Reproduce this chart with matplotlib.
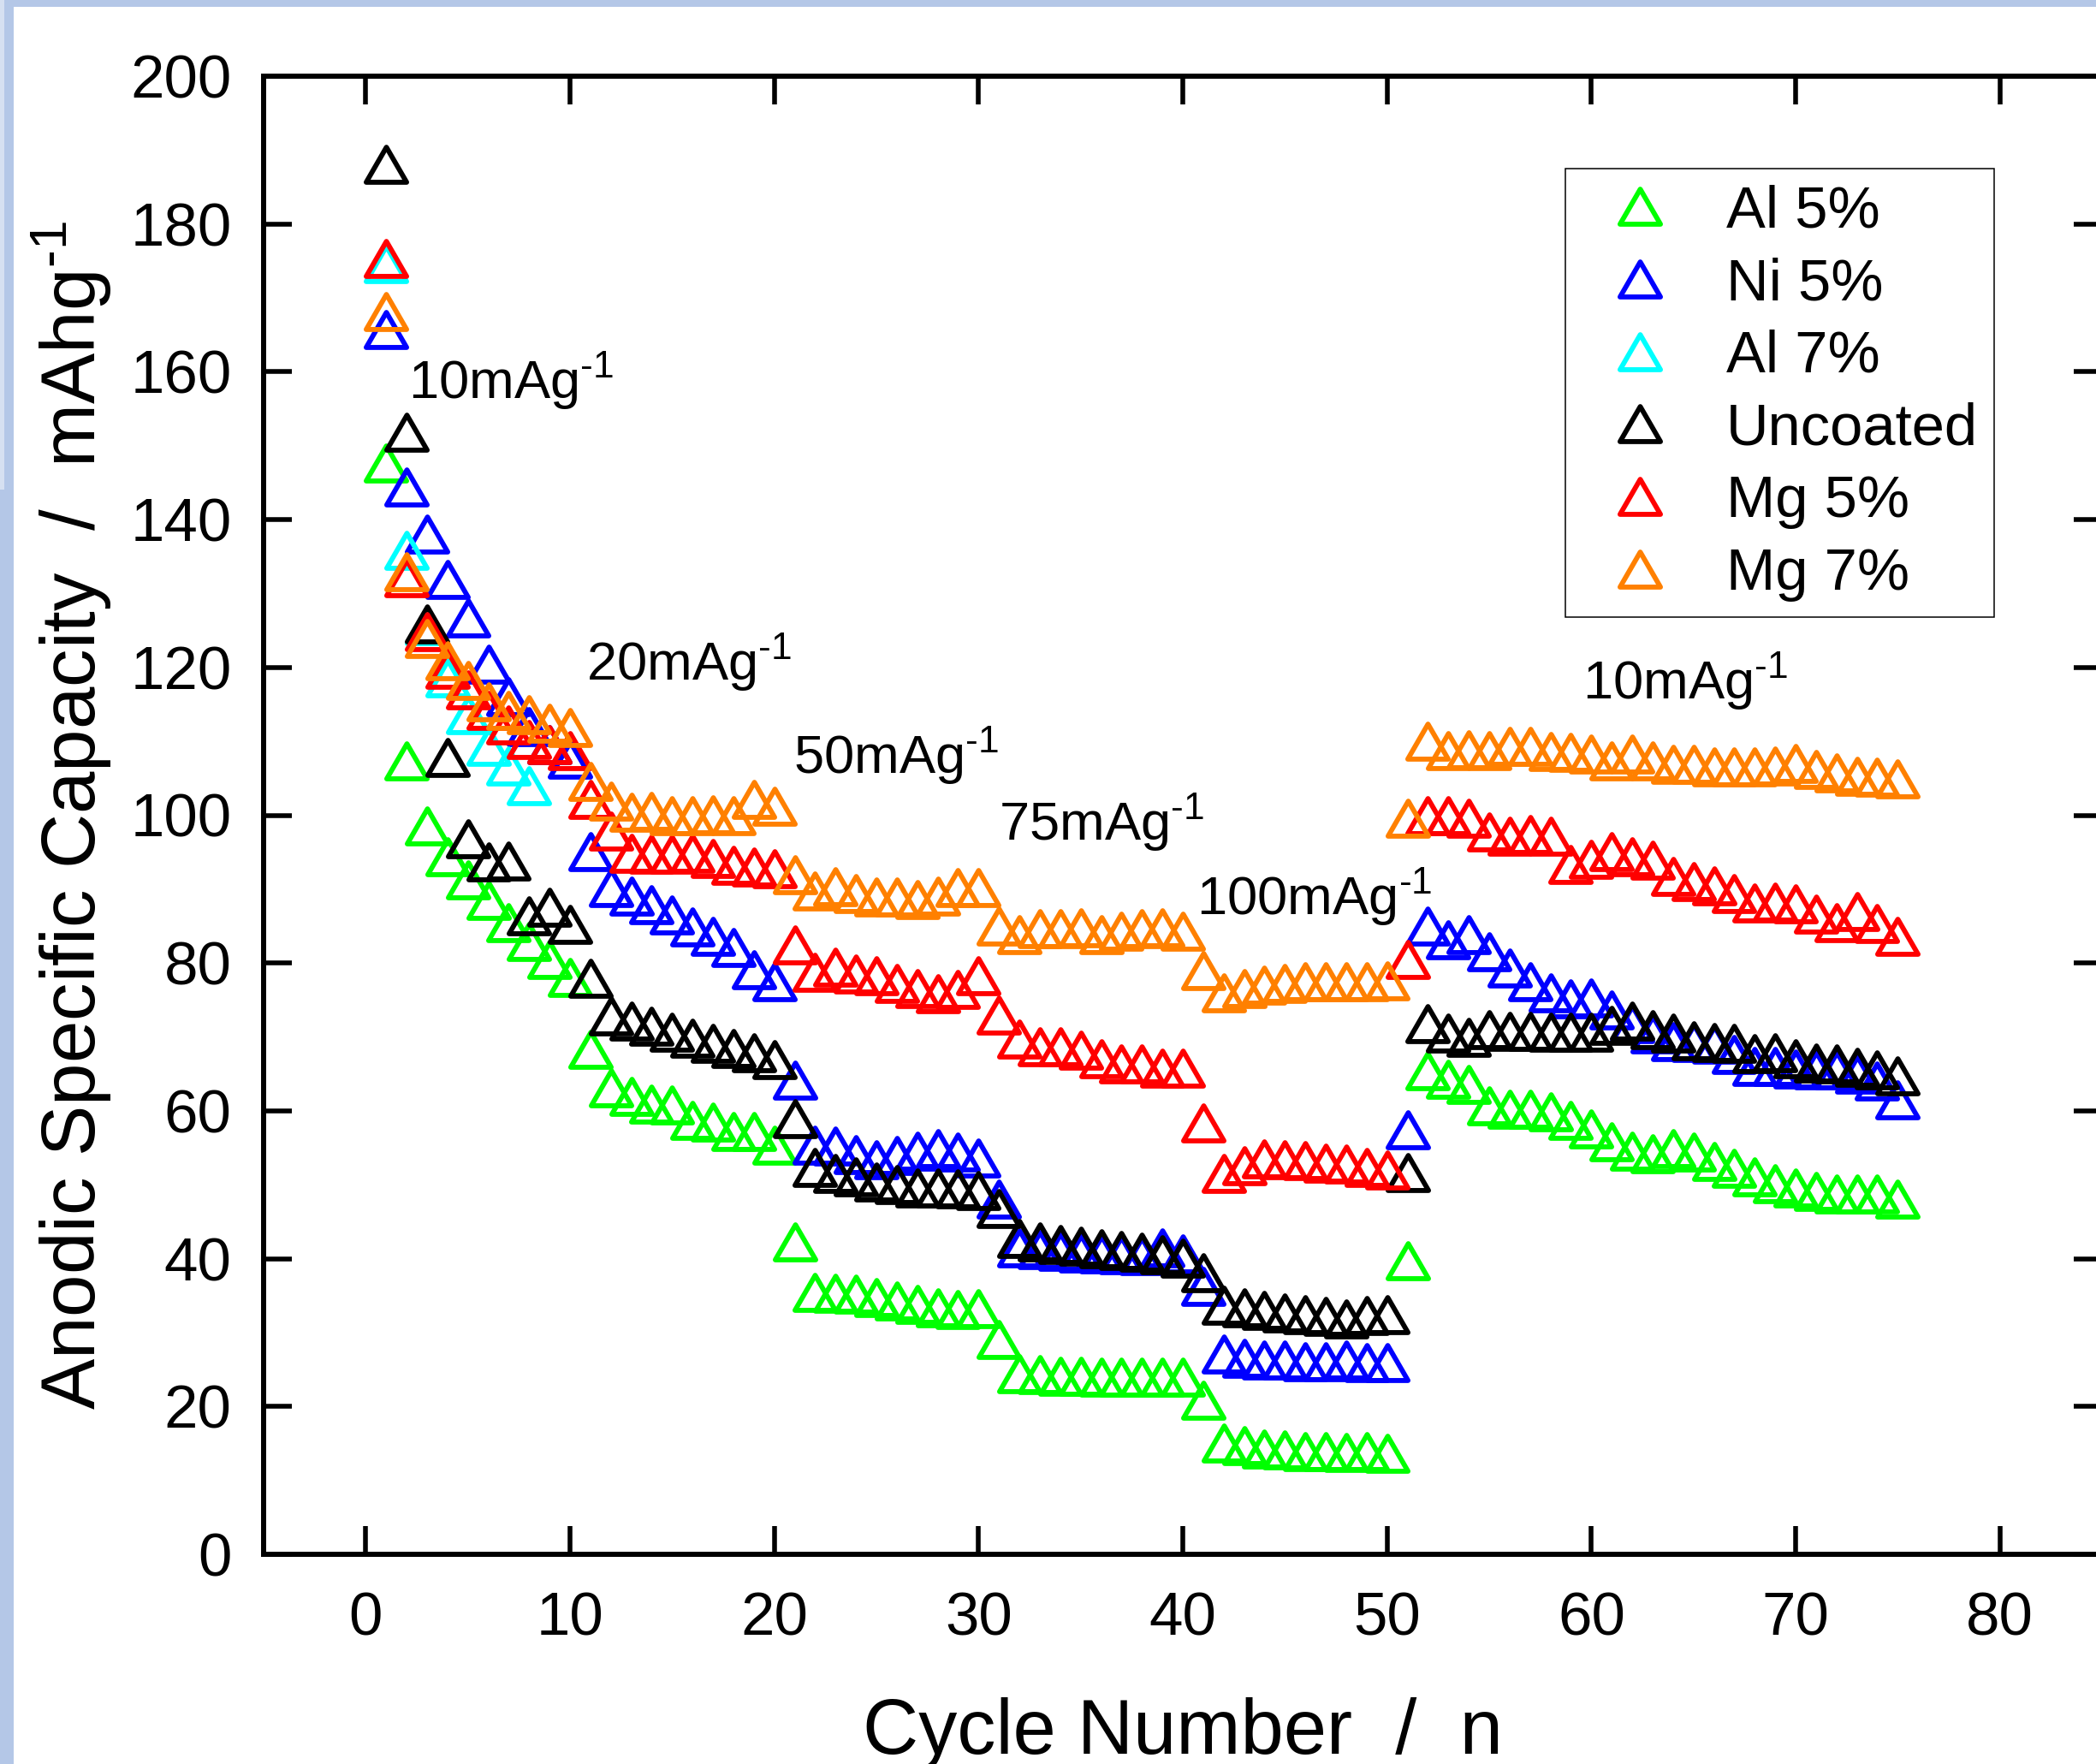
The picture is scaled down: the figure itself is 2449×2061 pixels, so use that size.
import numpy as np
import matplotlib
matplotlib.use("Agg")
import matplotlib.pyplot as plt
from matplotlib.path import Path
from matplotlib.patches import Rectangle

# Rate capability data (anodic specific capacity, mAh/g) read cycle by cycle
cycles = np.arange(1, 76)

al5 = [147.6, 107.4, 98.5, 94.4, 91.3, 88.5, 85.5, 82.9, 80.5, 78.1,
       68.3, 63.1, 62.0, 60.9, 60.8, 58.7, 58.5, 57.2, 57.2, 55.3,
       42.3, 35.4, 35.3, 35.2, 34.8, 34.3, 33.8, 33.3, 33.1, 33.2,
       29.1, 24.4, 24.3, 24.1, 24.1, 24.0, 24.0, 24.0, 24.0, 24.0,
       20.8, 15.1, 14.7, 14.3, 14.1, 13.9, 13.9, 13.8, 13.9, 13.7,
       39.7, 65.4, 64.3, 63.6, 60.7, 60.2, 60.2, 59.9, 58.7, 57.6,
       55.8, 54.5, 54.2, 54.9, 54.4, 53.2, 52.2, 51.1, 50.2, 49.6,
       49.1, 48.8, 48.7, 48.7, 48.1]

ni5 = [165.7, 144.4, 138.1, 131.9, 126.7, 120.4, 116.0, 112.0, 109.5, 107.6,
       95.1, 90.2, 89.1, 87.9, 86.5, 84.9, 83.6, 82.1, 79.1, 77.5,
       64.1, 55.4, 55.2, 54.1, 53.4, 54.0, 54.6, 54.9, 54.4, 53.6,
       48.1, 41.5, 41.2, 41.0, 40.8, 40.7, 40.5, 40.4, 41.5, 40.7,
       36.2, 27.1, 26.5, 26.3, 26.3, 26.1, 26.1, 26.3, 25.9, 25.9,
       57.4, 85.0, 83.2, 83.8, 81.5, 79.3, 77.5, 76.0, 75.2, 75.3,
       73.6, 71.8, 70.4, 69.4, 69.2, 69.0, 67.6, 66.0, 66.0, 65.7,
       65.6, 65.5, 65.0, 64.0, 61.5]

al7_cycles = np.arange(1, 9)
al7 = [174.6, 135.8, 125.6, 118.6, 113.6, 109.3, 106.7, 104.0]

uncoated = [188.1, 151.8, 125.9, 107.8, 96.8, 93.7, 93.8, 86.4, 87.6, 85.2,
            77.9, 72.8, 72.1, 71.4, 70.7, 69.8, 69.1, 68.5, 67.9, 66.9,
            59.0, 52.4, 51.5, 51.1, 50.4, 50.0, 49.6, 49.6, 49.4, 49.2,
            46.8, 42.7, 42.3, 41.9, 41.7, 41.4, 41.1, 40.9, 40.5, 40.1,
            38.1, 33.7, 33.4, 33.0, 32.7, 32.4, 32.2, 31.8, 32.3, 32.4,
            51.6, 71.8, 70.5, 70.0, 71.0, 70.8, 70.8, 70.7, 70.7, 70.7,
            71.6, 72.2, 71.0, 70.5, 69.5, 69.2, 69.1, 67.7, 67.9, 67.1,
            66.5, 66.4, 65.9, 65.5, 64.7]

mg5 = [175.3, 132.1, 124.8, 119.8, 117.0, 114.2, 112.2, 110.2, 109.6, 108.8,
       102.1, 97.8, 94.8, 94.7, 94.7, 94.9, 94.2, 93.2, 93.0, 92.8,
       82.4, 78.8, 79.5, 78.5, 78.3, 77.3, 76.6, 75.9, 76.4, 78.3,
       73.0, 69.7, 68.7, 68.7, 68.2, 67.0, 66.3, 66.3, 65.8, 65.8,
       58.4, 51.5, 52.6, 53.5, 53.4, 53.3, 52.9, 52.8, 52.4, 52.0,
       80.5, 100.0, 100.0, 99.6, 97.7, 97.2, 97.4, 97.2, 93.3, 94.0,
       95.1, 94.4, 93.9, 91.7, 91.0, 90.4, 89.4, 88.1, 88.2, 88.0,
       86.6, 85.5, 87.0, 85.4, 83.6]

mg7 = [168.1, 132.9, 123.9, 120.9, 118.2, 115.3, 114.2, 113.6, 112.4, 111.9,
       104.6, 101.9, 100.4, 100.5, 100.0, 100.0, 100.1, 99.9, 102.1, 101.2,
       92.0, 89.7, 90.3, 89.4, 88.9, 88.9, 88.6, 89.0, 90.2, 90.2,
       85.0, 83.8, 84.6, 84.6, 84.8, 83.8, 84.3, 84.6, 84.8, 84.3,
       79.0, 76.0, 76.5, 77.0, 77.3, 77.5, 77.5, 77.5, 77.5, 77.6,
       99.6, 110.0, 108.8, 108.9, 108.8, 109.3, 109.3, 108.6, 108.5, 108.3,
       107.4, 108.3, 107.4, 106.9, 106.9, 106.5, 106.5, 106.6, 106.7, 107.0,
       106.2, 105.7, 105.3, 105.2, 104.9]

rate_labels = ["10", "20", "50", "75", "100", "10"]

# Fonts (Arial look-alike)
plt.rcParams["font.family"] = "Liberation Sans"
plt.rcParams["mathtext.fontset"] = "custom"
plt.rcParams["mathtext.rm"] = "Liberation Sans"
plt.rcParams["mathtext.it"] = "Liberation Sans:italic"
plt.rcParams["mathtext.bf"] = "Liberation Sans:bold"

# superscript "-1" with a plain hyphen (not a math minus)
SUP = r"$^{\text{-1}}$"

# Open triangle a little wider than tall
tri = Path([(-1.0, -0.866), (1.0, -0.866), (0.0, 0.866), (-1.0, -0.866)],
           [Path.MOVETO, Path.LINETO, Path.LINETO, Path.CLOSEPOLY])

W, H = 2449, 2061
fig = plt.figure(figsize=(W / 100, H / 100), dpi=100)

# light blue frame on the left / top edge
fig.add_artist(Rectangle((0, 0), 16 / W, 1, transform=fig.transFigure,
                         facecolor="#B4C7E7", edgecolor="none", zorder=-5))
fig.add_artist(Rectangle((0, 1 - 572 / H), 5 / W, 572 / H, transform=fig.transFigure,
                         facecolor="#D6E0F1", edgecolor="none", zorder=-4))
fig.add_artist(Rectangle((0, 1 - 8 / H), 1, 8 / H, transform=fig.transFigure,
                         facecolor="#B4C7E7", edgecolor="none", zorder=-5))

ax = fig.add_axes([308 / W, (H - 1816) / H, (2456 - 308) / W, (1816 - 89) / H])

series = [
    (cycles, al5, "#00FF00", "Al 5%"),
    (cycles, ni5, "#0000FF", "Ni 5%"),
    (al7_cycles, al7, "#00FFFF", "Al 7%"),
    (cycles, uncoated, "#000000", "Uncoated"),
    (cycles, mg5, "#FF0000", "Mg 5%"),
    (cycles, mg7, "#FF8000", "Mg 7%"),
]

for x, y, col, lab in series:
    ax.plot(x, y, linestyle="none", marker=tri, markersize=34,
            markerfacecolor="none", markeredgecolor=col, markeredgewidth=4.2,
            label=lab)

ax.set_xlim(-5, 85)
ax.set_ylim(0, 200)
ax.set_xticks(np.arange(0, 81, 10))
ax.set_yticks(np.arange(0, 201, 20))

for s in ax.spines.values():
    s.set_linewidth(4.3)
ax.tick_params(direction="in", length=24, width=4, top=True, right=True,
               labelsize=51)
ax.tick_params(axis="x", pad=31)
ax.tick_params(axis="y", pad=27)

# current density annotations
rate_pos = [(2.1, 156.5), (10.8, 118.3), (20.93, 105.7),
            (31.0, 96.65), (40.67, 86.66), (59.55, 115.8)]
for lab, (tx, ty) in zip(rate_labels, rate_pos):
    ax.text(tx, ty, lab + "mAg" + SUP, fontsize=45.5, ha="left", va="baseline")

# axis titles
fig.text(112 / W, 1 - 953 / H, "Anodic Specific Capacity  /  mAhg" + SUP,
         fontsize=64, rotation=90, rotation_mode="anchor",
         ha="center", va="baseline")
fig.text(1382 / W, 1 - 2049 / H, "Cycle Number  /  n", fontsize=65,
         ha="center", va="baseline")

leg = ax.legend(loc="upper left", bbox_to_anchor=(0.708, 0.9375),
                borderaxespad=0, fontsize=49.5, fancybox=False, framealpha=1,
                edgecolor="black", borderpad=0.27, labelspacing=0.3,
                handlelength=2.0, handletextpad=0.47, numpoints=1)
leg.get_frame().set_linewidth(1.1)

fig.savefig("out.png", dpi=100)
